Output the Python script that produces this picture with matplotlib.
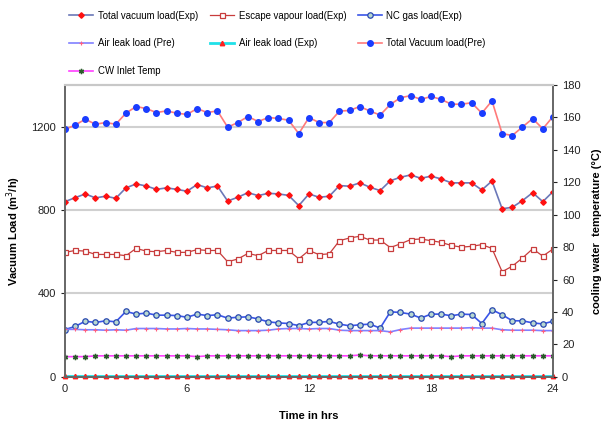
import numpy as np
from matplotlib import pyplot as plt

plt.rcParams['font.family'] = ['Liberation Sans', 'DejaVu Sans']

# time axis, half-hour readings
hours = np.arange(0, 24.5, 0.5)

total_pre = [1186, 1207, 1235, 1211, 1219, 1211, 1264, 1296, 1286, 1267, 1275, 1264, 1258, 1286, 1267, 1275,
             1197, 1219, 1248, 1224, 1243, 1239, 1230, 1166, 1243, 1219, 1219, 1274, 1277, 1296, 1274, 1255,
             1306, 1338, 1348, 1330, 1344, 1330, 1307, 1307, 1314, 1264, 1323, 1166, 1157, 1198, 1238, 1189, 1248]
total_exp = [840, 859, 877, 858, 866, 856, 906, 925, 915, 899, 906, 899, 890, 922, 906, 915,
             843, 861, 883, 869, 880, 877, 870, 821, 877, 861, 866, 917, 914, 930, 909, 893,
             940, 957, 968, 952, 962, 949, 930, 930, 930, 896, 939, 806, 813, 845, 883, 840, 888]
escape_exp = [597, 606, 603, 587, 587, 587, 581, 616, 603, 600, 606, 597, 597, 610, 606, 606,
              552, 565, 592, 581, 606, 606, 606, 566, 606, 586, 590, 653, 666, 674, 656, 656,
              620, 638, 658, 661, 653, 645, 630, 622, 626, 634, 616, 504, 531, 570, 614, 579, 613]
nc_exp = [227, 242, 267, 261, 269, 264, 314, 301, 306, 296, 296, 294, 286, 301, 294, 298,
          282, 286, 288, 278, 264, 259, 256, 246, 261, 262, 266, 253, 245, 250, 253, 234,
          312, 309, 301, 282, 301, 301, 293, 301, 299, 256, 322, 298, 269, 269, 259, 254, 267]
air_pre = [228, 228, 226, 226, 224, 226, 224, 232, 232, 232, 230, 230, 232, 230, 230, 228,
           226, 222, 222, 222, 224, 230, 232, 232, 230, 232, 232, 224, 222, 222, 222, 222,
           216, 227, 234, 234, 234, 234, 234, 234, 236, 234, 234, 226, 224, 224, 224, 222, 222]
air_exp = [3, 3, 3, 3, 3, 3, 3, 3, 3, 3, 3, 3, 3, 3, 3, 3,
           3, 3, 3, 3, 3, 3, 3, 3, 3, 3, 3, 3, 3, 3, 3, 3,
           3, 3, 3, 3, 3, 3, 3, 3, 3, 3, 3, 3, 3, 3, 3, 3, 3]
cw_temp = [12.5, 12.5, 12.5, 13, 13, 13, 13, 13, 13, 13, 13, 13, 13, 12.5, 13, 13,
           13, 13, 13, 13, 13, 13, 13, 13, 13, 13, 13, 13, 13, 13.5, 13, 13,
           13, 13, 13, 13, 13, 13, 12.5, 13, 13, 13, 13, 13, 13, 13, 13, 13, 13]

fig = plt.figure(figsize=(6.07, 4.24), dpi=100)
ax = fig.add_axes([0.107, 0.111, 0.804, 0.689])
ax2 = ax.twinx()

h_total_exp, = ax.plot(hours, total_exp, color='#6b78b8', lw=1.2, marker='D', ms=2.8,
                       mfc='#ff1010', mec='#ff1010', label='Total vacuum load(Exp)')
h_escape, = ax.plot(hours, escape_exp, color='#c83c3c', lw=0.9, marker='s', ms=3.6,
                    mfc='white', mec='#c83c3c', mew=0.9, label='Escape vapour load(Exp)')
h_nc, = ax.plot(hours, nc_exp, color='#3a55e8', lw=1.2, marker='o', ms=3.9,
                mfc='#b8d8d0', mec='#2848b0', mew=0.9, label='NC gas load(Exp)')
h_air_pre, = ax.plot(hours, air_pre, color='#8080ff', lw=1.2, marker='+', ms=3.2,
                     mec='#ff6080', mew=0.8, label='Air leak load (Pre)')
h_air_exp, = ax.plot(hours, air_exp, color='#20e0e8', lw=2.0, marker='^', ms=3.2,
                     mfc='#ff2020', mec='#ff2020', label='Air leak load (Exp)', clip_on=False)
h_total_pre, = ax.plot(hours, total_pre, color='#ff7a7a', lw=1.2, marker='o', ms=4.0,
                       mfc='#1a3cff', mec='#1a3cff', label='Total Vacuum load(Pre)')
h_cw, = ax2.plot(hours, cw_temp, color='#ff40ff', lw=1.2, marker=(6, 2, 0), ms=3.8,
                 mec='#2a5a2a', mew=1.0, label='CW Inlet Temp')

ax.set_xlim(0, 24)
ax.set_ylim(0, 1400)
ax.set_yticks([0, 400, 800, 1200])
ax.set_xticks([0, 6, 12, 18, 24])
ax2.set_ylim(0, 180)
ax2.set_yticks(range(0, 181, 20))

for a in (ax, ax2):
    a.tick_params(labelsize=8, length=3, width=0.8, colors='#222222')
    for s in ('left', 'right', 'bottom'):
        a.spines[s].set_color('#666666')
        a.spines[s].set_linewidth(1.2)
    a.spines['top'].set_color('#c8c8c8')
    a.spines['top'].set_linewidth(1.5)
ax.tick_params(axis='x', length=0, pad=5)
ax.grid(axis='y', color='#d0d0d0', lw=1.5)
ax.set_axisbelow(True)

ax.set_xlabel('Time in hrs', fontsize=8, fontweight='bold', labelpad=12)
ax.set_ylabel('Vacuum Load (m$^3$/h)', fontsize=8, fontweight='bold', labelpad=6)
ax2.set_ylabel('cooling water  temperature (°C)', fontsize=8, fontweight='bold', labelpad=8)

# legend in rows of three, matplotlib fills columns first
handles = [h_total_exp, h_air_pre, h_cw, h_escape, h_air_exp, h_nc, h_total_pre]
fig.legend(handles=handles, labels=[h.get_label() for h in handles], ncol=3,
           loc='upper left', bbox_to_anchor=(0.1, 0.995), frameon=False, fontsize=6.9,
           handlelength=2.5, labelspacing=1.85, columnspacing=1.2, handletextpad=0.5)

fig.savefig('out.png', dpi=100)
